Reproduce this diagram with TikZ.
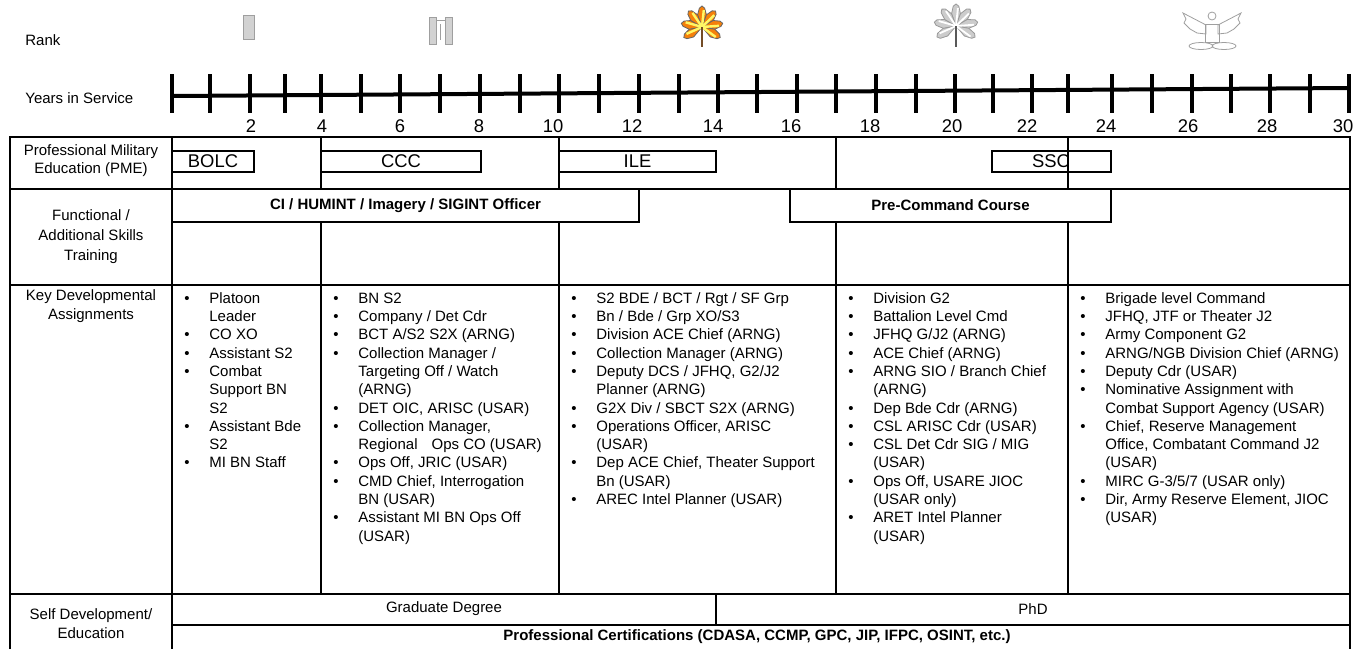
\documentclass[tikz,border=0pt]{standalone}
\usepackage{fontspec}
\setmainfont{Liberation Sans}
\usepackage{xcolor}
\usepackage{tikz}
\usetikzlibrary{shapes.geometric,positioning}
\newcommand{\smalltxt}{\fontsize{7.5}{9.15}\selectfont}
\newcommand{\bigtxt}{\fontsize{9.2}{11}\selectfont}
\newcommand{\bl}{\textbullet}

\begin{document}
\begin{tikzpicture}
  [x=0.5pt,y=-0.5pt,every node/.style={inner sep=0pt,font=\smalltxt}]
\tikzset{%
rule/.style={line width=0.65pt},
course/.style={draw,line width=0.65pt},
skill/.style={draw,fill=white,line width=0.65pt},
tick/.style={line width=1.6pt},
yearlabel/.style={font=\bigtxt},
rowhead/.style={align=center},
kda/.style={anchor=north west,align=left},
insig/.style={draw=gray!75,fill=gray!35,line width=0.4pt},
leafgold/.style={draw=black!60,fill=orange!85!brown,line width=0.4pt},
leafsilver/.style={draw=gray!80,fill=gray!40,line width=0.4pt}
}
\useasboundingbox (0,0) rectangle (1364,649);

% rank and years in service
\node[anchor=west] (rank) at (25,40) {Rank};
\node[anchor=west] (yis) at (25,98) {Years in Service};

\draw[insig] (243,15) rectangle (254,39);
\draw[insig] (429,17) rectangle (436,44);
\draw[insig] (445,17) rectangle (452,44);
\draw[insig] (436,20) -- (445,20);
\draw[insig] (440,24) -- (440,40);

\begin{scope}[shift={(702,27)}]
\foreach \a in {-90,-50,-10,30,150,190,230}
  \draw[leafgold] (0,0) -- (\a-20:13) -- (\a-8:19) -- (\a:21) -- (\a+8:19) -- (\a+20:13) -- cycle;
\foreach \a in {-90,-50,-10,30,150,190,230}
  \draw[yellow!60,line width=1.2pt] (0,0) -- (\a+6:17);
\draw[brown!60!black,line width=0.9pt] (0,0) -- (0,20);
\end{scope}
\begin{scope}[shift={(956,26)}]
\foreach \a in {-90,-50,-10,30,150,190,230}
  \draw[leafsilver] (0,0) -- (\a-20:13) -- (\a-8:20) -- (\a:22) -- (\a+8:20) -- (\a+20:13) -- cycle;
\foreach \a in {-90,-50,-10,30,150,190,230}
  \draw[white,line width=0.9pt] (0,0) -- (\a+6:18);
\draw[gray!70!black,line width=0.9pt] (0,0) -- (0,21);
\end{scope}
\begin{scope}[insig]
\draw (1206,25) -- (1183,13) -- (1186,19) -- (1184,23) -- (1190,29) -- (1197,33) -- (1206,34) -- cycle;
\draw (1218,25) -- (1241,13) -- (1238,19) -- (1240,23) -- (1234,29) -- (1227,33) -- (1218,34) -- cycle;
\draw (1212,16) circle[radius=4];
\draw (1205,24) rectangle (1219,42);
\draw (1201,46) ellipse[x radius=12,y radius=3.5];
\draw (1224,46) ellipse[x radius=12,y radius=3.5];
\end{scope}

\draw[line width=2pt] (172,96) -- (1349,88);
\foreach \xx in {172,210,250,285,321,361,400,440,480,520,559,599,639,679,718,757,797,836,876,916,955,993,1032,1068,1112,1152,1192,1231,1270,1310,1349}
  \draw[tick] (\xx,74) -- (\xx,113);
\foreach \xx/\yr in {251/2,322/4,400/6,479/8,553/10,632/12,713/14,791/16,870/18,952/20,1027/22,1106/24,1188/26,1267/28,1343/30}
  \node[yearlabel] (y\yr) at (\xx,126) {\yr};

% table
\draw[rule] (10,649) -- (10,137) -- (1350,137) -- (1350,649);
\foreach \yy in {189,285,594} \draw[rule] (10,\yy) -- (1350,\yy);
\draw[rule] (172,137) -- (172,649);
\foreach \xx in {321,559,836,1068} \draw[rule] (\xx,137) -- (\xx,594);
\draw[rule] (172,625) -- (1350,625);
\draw[rule] (716,594) -- (716,625);

\node[rowhead,font=\fontsize{7.5}{9}\selectfont] (pme) at (91,161) {Professional Military\\Education (PME)};
\node[rowhead,font=\fontsize{7.5}{10}\selectfont] (fast) at (91,237) {Functional /\\Additional Skills\\Training};
\node[rowhead,font=\fontsize{7.5}{9.5}\selectfont] (kda) at (91,306) {Key Developmental\\Assignments};
\node[rowhead,font=\fontsize{7.5}{9.5}\selectfont] (sde) at (91,624) {Self Development/\\Education};

% PME courses
\draw[course] (172,151) rectangle (254,172);
\node[yearlabel] (bolc) at (213,161.5) {BOLC};
\draw[course] (321,151) rectangle (481,172);
\node[yearlabel] (ccc) at (401,161.5) {CCC};
\draw[course] (559,151) rectangle (716,172);
\node[yearlabel] (ile) at (637.5,161.5) {ILE};
\draw[course] (992,151) rectangle (1111,172);
\node[yearlabel] (ssc) at (1051,161.5) {SSC};

% functional training
\draw[skill] (172,189) rectangle (639,222);
\node[font=\smalltxt\bfseries] (ci) at (405.5,205.5) {CI / HUMINT / Imagery / SIGINT Officer};
\draw[skill] (790,189) rectangle (1111,222);
\node[font=\smalltxt\bfseries] (pcc) at (950.5,205.5) {Pre-Command Course};

% key developmental assignments
\node[kda] (kda1) at (184,290) {\begin{tabular}{@{}p{12.5pt}@{}l@{}}
\bl & Platoon\\ & Leader\\
\bl & CO XO\\
\bl & Assistant S2\\
\bl & Combat\\ & Support BN\\ & S2\\
\bl & Assistant Bde\\ & S2\\
\bl & MI BN Staff
\end{tabular}};
\node[kda] (kda2) at (333,290) {\begin{tabular}{@{}p{12.5pt}@{}l@{}}
\bl & BN S2\\
\bl & Company / Det Cdr\\
\bl & BCT A/S2 S2X (ARNG)\\
\bl & Collection Manager /\\ & Targeting Off / Watch\\ & (ARNG)\\
\bl & DET OIC, ARISC (USAR)\\
\bl & Collection Manager,\\ & Regional\hspace{7pt}Ops CO (USAR)\\
\bl & Ops Off, JRIC (USAR)\\
\bl & CMD Chief, Interrogation\\ & BN (USAR)\\
\bl & Assistant MI BN Ops Off\\ & (USAR)
\end{tabular}};
\node[kda] (kda3) at (571,290) {\begin{tabular}{@{}p{12.5pt}@{}l@{}}
\bl & S2 BDE / BCT / Rgt / SF Grp\\
\bl & Bn / Bde / Grp XO/S3\\
\bl & Division ACE Chief (ARNG)\\
\bl & Collection Manager (ARNG)\\
\bl & Deputy DCS / JFHQ, G2/J2\\ & Planner (ARNG)\\
\bl & G2X Div / SBCT S2X (ARNG)\\
\bl & Operations Officer, ARISC\\ & (USAR)\\
\bl & Dep ACE Chief, Theater Support\\ & Bn (USAR)\\
\bl & AREC Intel Planner (USAR)
\end{tabular}};
\node[kda] (kda4) at (848,290) {\begin{tabular}{@{}p{12.5pt}@{}l@{}}
\bl & Division G2\\
\bl & Battalion Level Cmd\\
\bl & JFHQ G/J2 (ARNG)\\
\bl & ACE Chief (ARNG)\\
\bl & ARNG SIO / Branch Chief\\ & (ARNG)\\
\bl & Dep Bde Cdr (ARNG)\\
\bl & CSL ARISC Cdr (USAR)\\
\bl & CSL Det Cdr SIG / MIG\\ & (USAR)\\
\bl & Ops Off, USARE JIOC\\ & (USAR only)\\
\bl & ARET Intel Planner\\ & (USAR)
\end{tabular}};
\node[kda] (kda5) at (1080,290) {\begin{tabular}{@{}p{12.5pt}@{}l@{}}
\bl & Brigade level Command\\
\bl & JFHQ, JTF or Theater J2\\
\bl & Army Component G2\\
\bl & ARNG/NGB Division Chief (ARNG)\\
\bl & Deputy Cdr (USAR)\\
\bl & Nominative Assignment with\\ & Combat Support Agency (USAR)\\
\bl & Chief, Reserve Management\\ & Office, Combatant Command J2\\ & (USAR)\\
\bl & MIRC G-3/5/7 (USAR only)\\
\bl & Dir, Army Reserve Element, JIOC\\ & (USAR)
\end{tabular}};

% self development
\node (grad) at (444,609) {Graduate Degree};
\node (phd) at (1033,609) {PhD};
\node[font=\smalltxt\bfseries] (cert) at (757,637) {Professional Certifications (CDASA, CCMP, GPC, JIP, IFPC, OSINT, etc.)};
\end{tikzpicture}
\end{document}
